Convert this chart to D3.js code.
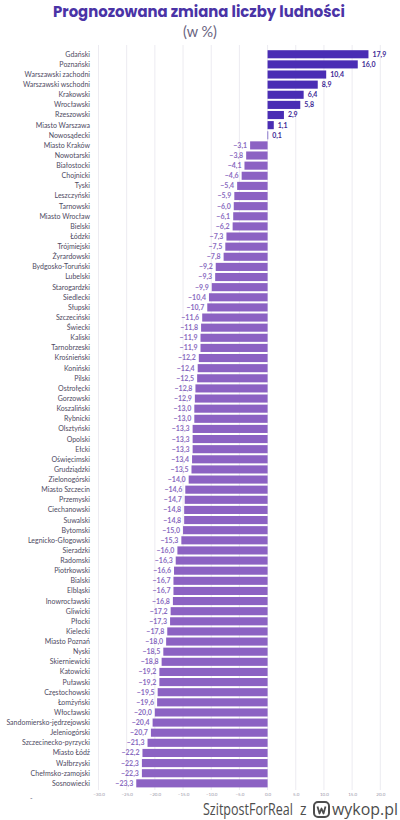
<!DOCTYPE html>
<html>
<head>
<meta charset="utf-8">
<script src="https://cdn.jsdelivr.net/npm/d3@7"></script>
<style>
  html, body { margin: 0; padding: 0; background: #ffffff; }
  svg { display: block; }
</style>
</head>
<body>
<svg id="chart" width="400" height="820"></svg>
<script>
const categories = [
  "Gdański","Poznański","Warszawski zachodni","Warszawski wschodni","Krakowski","Wrocławski",
  "Rzeszowski","Miasto Warszawa","Nowosądecki","Miasto Kraków","Nowotarski","Białostocki",
  "Chojnicki","Tyski","Leszczyński","Tarnowski","Miasto Wrocław","Bielski","Łódzki",
  "Trójmiejski","Żyrardowski","Bydgosko-Toruński","Lubelski","Starogardzki","Siedlecki",
  "Słupski","Szczeciński","Świecki","Kaliski","Tarnobrzeski","Krośnieński","Koniński",
  "Pilski","Ostrołęcki","Gorzowski","Koszaliński","Rybnicki","Olsztyński","Opolski","Ełcki",
  "Oświęcimski","Grudziądzki","Zielonogórski","Miasto Szczecin","Przemyski","Ciechanowski",
  "Suwalski","Bytomski","Legnicko-Głogowski","Sieradzki","Radomski","Piotrkowski","Bialski",
  "Elbląski","Inowrocławski","Gliwicki","Płocki","Kielecki","Miasto Poznań","Nyski",
  "Skierniewicki","Katowicki","Puławski","Częstochowski","Łomżyński","Włocławski",
  "Sandomiersko-jędrzejowski","Jeleniogórski","Szczecinecko-pyrzycki","Miasto Łódź",
  "Wałbrzyski","Chełmsko-zamojski","Sosnowiecki"
];
const values = [
  17.9,16.0,10.4,8.9,6.4,5.8,2.9,1.1,0.1,-3.1,-3.8,-4.1,-4.6,-5.4,-5.9,-6.0,-6.1,-6.2,-7.3,
  -7.5,-7.8,-9.2,-9.3,-9.9,-10.4,-10.7,-11.6,-11.8,-11.9,-11.9,-12.2,-12.4,-12.5,-12.8,-12.9,
  -13.0,-13.0,-13.3,-13.3,-13.3,-13.4,-13.5,-14.0,-14.6,-14.7,-14.8,-14.8,-15.0,-15.3,-16.0,
  -16.3,-16.6,-16.7,-16.7,-16.8,-17.2,-17.3,-17.8,-18.0,-18.5,-18.8,-19.2,-19.2,-19.5,-19.6,
  -20.0,-20.4,-20.7,-21.3,-22.2,-22.3,-22.3,-23.3
];
const tickValues = [-30,-25,-20,-15,-10,-5,0,5,10,15,20];
const titleText = "Prognozowana zmiana liczby ludności";
const subtitleText = "(w %)";
const watermarkUser = "SzitpostForReal";
const watermarkSite = "wykop.pl";

const data = categories.map((c, i) => ({ name: c, value: values[i] }));
const fmt = v => d3.format(".1f")(v).replace(".", ",").replace("-", "\u2212");

const svg = d3.select("#chart");
const font = "Lato, 'Open Sans', sans-serif";

const x = d3.scaleLinear().domain([-30, 20]).range([98.5, 380.3]);
const y = d3.scaleBand().domain(categories).range([49.2, 788.4]).paddingInner(0.2).paddingOuter(0.1);

// title
svg.append("text").attr("x", 199).attr("y", 17).attr("text-anchor", "middle")
  .attr("font-family", "Poppins, Lato, sans-serif").attr("font-weight", 700).attr("font-size", 15)
  .attr("textLength", 292).attr("lengthAdjust", "spacingAndGlyphs")
  .attr("fill", "#4a33a6").text(titleText);
svg.append("text").attr("x", 200).attr("y", 37).attr("text-anchor", "middle")
  .attr("font-family", font).attr("font-size", 14.5).attr("fill", "#6a6480").text(subtitleText);

// grid
svg.append("g").selectAll("line").data(tickValues).join("line")
  .attr("x1", d => x(d)).attr("x2", d => x(d))
  .attr("y1", 45).attr("y2", 790)
  .attr("stroke", "#ecebf1").attr("stroke-width", 1);

// axis
const axis = d3.axisBottom(x).tickValues(tickValues).tickSize(0).tickPadding(0)
  .tickFormat(d => d3.format(".1f")(d).replace("-", "\u2212"));
const gx = svg.append("g").attr("transform", "translate(0,793)").call(axis);
gx.select(".domain").remove();
gx.selectAll("text").attr("font-family", font).attr("font-size", 4.5).attr("fill", "#9a96a8").attr("dy", "0.7em");

// bars
svg.append("g").selectAll("rect").data(data).join("rect")
  .attr("x", d => x(Math.min(0, d.value)))
  .attr("y", d => y(d.name))
  .attr("width", d => Math.max(0.6, Math.abs(x(d.value) - x(0))))
  .attr("height", y.bandwidth())
  .attr("fill", d => d.value >= 0 ? "#4a2db4" : "#8c62c3");

// category labels
svg.append("g").selectAll("text").data(data).join("text")
  .attr("x", 90).attr("y", d => y(d.name) + y.bandwidth() / 2)
  .attr("dy", "0.35em").attr("text-anchor", "end")
  .attr("font-family", font).attr("font-size", 7).attr("fill", "#4e4a62")
  .text(d => d.name);

// value labels
svg.append("g").selectAll("text").data(data).join("text")
  .attr("x", d => d.value >= 0 ? x(d.value) + 4 : x(d.value) - 3)
  .attr("y", d => y(d.name) + y.bandwidth() / 2)
  .attr("dy", "0.35em").attr("text-anchor", d => d.value >= 0 ? "start" : "end")
  .attr("font-family", font).attr("font-weight", 700).attr("font-size", 7)
  .attr("fill", d => d.value >= 0 ? "#3e2a96" : "#8a6cbf")
  .text(d => fmt(d.value));

// small mark bottom-left
svg.append("text").attr("x", 30).attr("y", 801).attr("font-family", font).attr("font-size", 7)
  .attr("fill", "#6a6480").text("-");

// watermark (each piece horizontally scaled to fit its target width)
function fitText(txt, x0, targetW, size) {
  const g = svg.append("g");
  const t = g.append("text").attr("x", 0).attr("y", 0)
    .attr("font-family", "'Open Sans', sans-serif").attr("font-size", size)
    .attr("fill", "#4d4d4d").text(txt);
  const w = t.node().getComputedTextLength();
  g.attr("transform", `translate(${x0},815) scale(${targetW / w},1)`);
}
fitText(watermarkUser, 203, 90, 15.5);
fitText("z", 300, 6.5, 15.5);
svg.append("rect").attr("x", 314).attr("y", 802).attr("width", 15).attr("height", 15).attr("rx", 4)
  .attr("fill", "none").attr("stroke", "#4d4d4d").attr("stroke-width", 2);
svg.append("path").attr("d", "M317.5,806.5 L319.5,813.5 L321.5,808.5 L323.5,813.5 L325.5,806.5")
  .attr("fill", "none").attr("stroke", "#4d4d4d").attr("stroke-width", 1.8).attr("stroke-linejoin", "round");
fitText(watermarkSite, 332, 66, 16.5);
</script>
</body>
</html>
